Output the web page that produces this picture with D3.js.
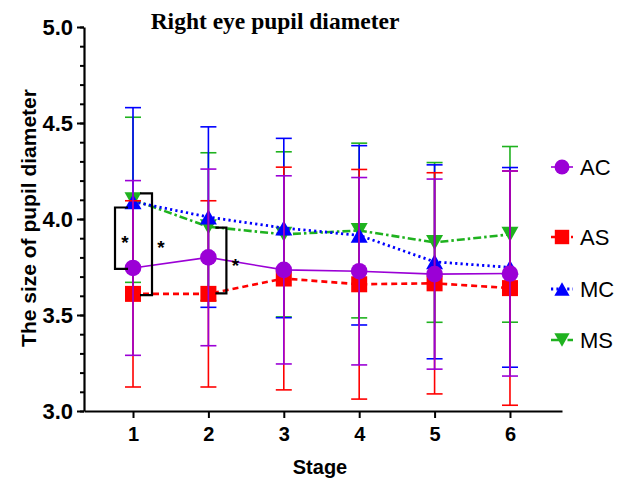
<!DOCTYPE html>
<html>
<head>
<meta charset="utf-8">
<script src="https://cdn.jsdelivr.net/npm/d3@7"></script>
<style>
  html, body { margin: 0; padding: 0; background: #fff; }
  svg { display: block; }
</style>
</head>
<body>
<svg id="chart" width="619" height="481"></svg>
<script>
// ---- data ----
const stages = [1, 2, 3, 4, 5, 6];
const yTicks = [3.0, 3.5, 4.0, 4.5, 5.0];
const seriesNames = ["AC", "AS", "MC", "MS"];
const acMean = [3.745, 3.80, 3.735, 3.728, 3.713, 3.716];
const acSD   = [0.455, 0.46, 0.49, 0.488, 0.495, 0.534];
const asMean = [3.61, 3.61, 3.69, 3.66, 3.665, 3.64];
const asSD   = [0.485, 0.485, 0.58, 0.598, 0.576, 0.61];
const mcMean = [4.09, 4.01, 3.953, 3.915, 3.777, 3.748];
const mcSD   = [0.49, 0.47, 0.467, 0.467, 0.505, 0.52];
const msMean = [4.10, 3.96, 3.92, 3.94, 3.878, 3.92];
const msSD   = [0.43, 0.385, 0.43, 0.455, 0.416, 0.4575];
// significance brackets: stage, low value, high value
const bracketStage = [1, 1, 2];
const bracketLow   = [3.74, 3.604, 3.613];
const bracketHigh  = [4.06, 4.133, 3.955];
const bracketLabel = ["*", "*", "*"];

// ---- styles ----
const styles = {
  AC: { color: "#9b00d6", dash: null, width: 1.6, shape: "circle" },
  AS: { color: "#ff0000", dash: "6,4", width: 2.6, shape: "square" },
  MC: { color: "#0000ff", dash: "2.2,3.2", width: 2.8, shape: "up" },
  MS: { color: "#1fb21f", dash: "8,3,2.5,3", width: 2.6, shape: "down" }
};
const bracketStyle = [
  { vx: -18, hx: -5 },
  { vx: 19, hx: 7 },
  { vx: 18, hx: 7 }
];
const bracketStar = [
  { dx: -8, v: 3.9 },
  { dx: 28, v: 3.87 },
  { dx: 27, v: 3.78 }
];

const series = {
  AC: { mean: acMean, sd: acSD },
  AS: { mean: asMean, sd: asSD },
  MC: { mean: mcMean, sd: mcSD },
  MS: { mean: msMean, sd: msSD }
};

const svg = d3.select("#chart");
const x = d3.scaleLinear().domain([0.35, 6.69]).range([84, 562]);
const y = d3.scaleLinear().domain([3, 5]).range([411, 27]);

// title
svg.append("text")
  .attr("x", 275).attr("y", 29)
  .attr("text-anchor", "middle")
  .attr("font-family", "'Liberation Serif', 'Times New Roman', serif")
  .attr("font-weight", "bold")
  .attr("font-size", 23.5)
  .text("Right eye pupil diameter");

// y axis
const minor = d3.range(30, 51).map(d => d / 10);
const gy = svg.append("g").attr("transform", "translate(84,0)");
gy.append("g")
  .call(d3.axisLeft(y).tickValues(minor).tickSize(4).tickFormat(""))
  .call(g => g.select(".domain").remove())
  .call(g => g.selectAll("line").attr("stroke", "#000").attr("stroke-width", 2));
gy.append("g")
  .call(d3.axisLeft(y).tickValues(yTicks).tickSize(7).tickSizeOuter(0).tickFormat(d3.format(".1f")))
  .call(g => g.select(".domain").attr("stroke", "#000").attr("stroke-width", 2.2))
  .call(g => g.selectAll("line").attr("stroke", "#000").attr("stroke-width", 2))
  .call(g => g.selectAll("text")
    .attr("font-family", "Arial, 'Liberation Sans', sans-serif")
    .attr("font-weight", "bold").attr("font-size", 22)
    .attr("fill", "#000").attr("dx", "-1"));

// x axis
const gx = svg.append("g").attr("transform", "translate(0,411)");
gx.call(d3.axisBottom(x).tickValues(stages).tickSize(7).tickSizeOuter(0).tickFormat(d3.format("d")))
  .call(g => g.select(".domain").attr("stroke", "#000").attr("stroke-width", 2.2))
  .call(g => g.selectAll("line").attr("stroke", "#000").attr("stroke-width", 2))
  .call(g => g.selectAll("text")
    .attr("font-family", "Arial, 'Liberation Sans', sans-serif")
    .attr("font-weight", "bold").attr("font-size", 20)
    .attr("fill", "#000").attr("dy", "1.0em"));

// axis titles
svg.append("text")
  .attr("x", 320).attr("y", 474)
  .attr("text-anchor", "middle")
  .attr("font-family", "Arial, 'Liberation Sans', sans-serif")
  .attr("font-weight", "bold").attr("font-size", 20)
  .text("Stage");
svg.append("text")
  .attr("transform", "translate(36,218) rotate(-90)")
  .attr("text-anchor", "middle")
  .attr("font-family", "Arial, 'Liberation Sans', sans-serif")
  .attr("font-weight", "bold").attr("font-size", 21)
  .text("The size of pupil diameter");

// marker drawing
function drawMarker(g, shape, cx, cy, color, s) {
  s = s || 1;
  if (shape === "circle") {
    g.append("circle").attr("cx", cx).attr("cy", cy).attr("r", 8.3 * s).attr("fill", color);
  } else if (shape === "square") {
    g.append("rect").attr("x", cx - 8 * s).attr("y", cy - 8 * s)
      .attr("width", 16 * s).attr("height", 16 * s).attr("fill", color);
  } else if (shape === "up") {
    const w = 8.5 * s, h = 7.5 * s;
    g.append("path").attr("d", `M${cx},${cy - h}L${cx + w},${cy + h}L${cx - w},${cy + h}Z`).attr("fill", color);
  } else if (shape === "down") {
    const w = 8.5 * s, h = 7.5 * s;
    g.append("path").attr("d", `M${cx},${cy + h}L${cx + w},${cy - h}L${cx - w},${cy - h}Z`).attr("fill", color);
  }
}

const plot = svg.append("g");
const order = ["MS", "MC", "AS", "AC"];
const capW = 8;
order.forEach(name => {
  const st = styles[name];
  const d = series[name];
  const g = plot.append("g");
  stages.forEach((s, i) => {
    const hi = y(d.mean[i] + d.sd[i]);
    const lo = y(d.mean[i] - d.sd[i]);
    const cx = x(s);
    g.append("line").attr("x1", cx).attr("x2", cx).attr("y1", hi).attr("y2", lo)
      .attr("stroke", st.color).attr("stroke-width", 1.6);
    [hi, lo].forEach(yy => g.append("line")
      .attr("x1", cx - capW).attr("x2", cx + capW).attr("y1", yy).attr("y2", yy)
      .attr("stroke", st.color).attr("stroke-width", 1.6));
  });
  const line = d3.line().x((v, i) => x(stages[i])).y(v => y(v));
  g.append("path").attr("d", line(d.mean))
    .attr("fill", "none").attr("stroke", st.color)
    .attr("stroke-width", st.width)
    .attr("stroke-dasharray", st.dash);
  stages.forEach((s, i) => drawMarker(g, st.shape, x(s), y(d.mean[i]), st.color));
});

// significance brackets
bracketStage.forEach((s, i) => {
  const bs = bracketStyle[i];
  const cx = x(s);
  const vx = cx + bs.vx, hx = cx + bs.hx;
  const yh = y(bracketHigh[i]), yl = y(bracketLow[i]);
  svg.append("path")
    .attr("d", `M${hx},${yh}H${vx}V${yl}H${hx}`)
    .attr("fill", "none").attr("stroke", "#000").attr("stroke-width", 2.2);
  svg.append("text")
    .attr("x", cx + bracketStar[i].dx).attr("y", y(bracketStar[i].v))
    .attr("text-anchor", "middle")
    .attr("font-family", "Arial, 'Liberation Sans', sans-serif")
    .attr("font-weight", "bold").attr("font-size", 19)
    .attr("dy", "0.55em")
    .text(bracketLabel[i]);
});

// legend
const legendY = [167, 237, 289, 340];
seriesNames.forEach((name, i) => {
  const st = styles[name];
  const g = svg.append("g");
  const cy = legendY[i];
  g.append("line").attr("x1", 551).attr("x2", 573).attr("y1", cy).attr("y2", cy)
    .attr("stroke", st.color).attr("stroke-width", st.width)
    .attr("stroke-dasharray", st.dash);
  drawMarker(g, st.shape, 562, cy, st.color, 0.9);
  g.append("text").attr("x", 580).attr("y", cy)
    .attr("dominant-baseline", "central")
    .attr("font-family", "Arial, 'Liberation Sans', sans-serif")
    .attr("font-size", 22)
    .text(name);
});
</script>
</body>
</html>
